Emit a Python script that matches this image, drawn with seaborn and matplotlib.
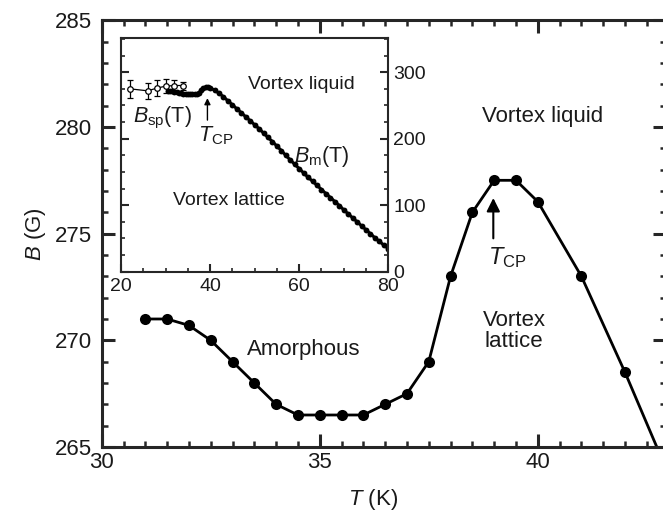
import numpy as np
import pandas as pd
import matplotlib
matplotlib.use('Agg')
import matplotlib.pyplot as plt
from matplotlib.ticker import MultipleLocator
import seaborn as sns

# main panel: B vs T
T_main = [31, 31.5, 32, 32.5, 33, 33.5, 34, 34.5, 35, 35.5, 36, 36.5, 37, 37.5,
          38, 38.5, 39, 39.5, 40, 41, 42, 43]
B_main = [271, 271, 270.7, 270, 269, 268, 267, 266.5, 266.5, 266.5, 266.5, 267,
          267.5, 269, 273, 276, 277.5, 277.5, 276.5, 273, 268.5, 263.7]

# inset: melting line B_m(T)
T_melt = [30.5, 31, 31.5, 32, 32.5, 33, 33.5, 34, 34.5, 35, 35.5, 36, 36.5, 37,
          37.5, 38, 38.5, 39, 39.5, 40, 41, 42, 43, 44, 45, 46, 47, 48, 49, 50,
          51, 52, 53, 54, 55, 56, 57, 58, 59, 60, 61, 62, 63, 64, 65, 66, 67, 68,
          69, 70, 71, 72, 73, 74, 75, 76, 77, 78, 79, 80]
B_melt = [271, 271, 271, 270.7, 270, 269, 268, 267, 266.5, 266.5, 266.5, 266.5,
          267, 267.5, 269, 273, 276, 277.5, 277.5, 276.5, 273, 268.5, 263, 257,
          251, 245, 239, 233, 227, 221, 215, 208.5, 202, 195.5, 189, 182, 175,
          168, 161.5, 155, 148.5, 142, 136, 130, 123.5, 117.5, 111.5, 105.5,
          99.5, 93, 87, 81, 75, 69, 63, 57, 51, 45.5, 40, 34.5]

# inset: B_sp(T) with error bars
T_sp = [22, 26, 28, 30, 32, 34]
B_sp = [275, 272, 276, 279, 280, 280]
B_sp_err = [13.5, 12.5, 12, 10.5, 9, 6]

df_main = pd.DataFrame({'T': T_main, 'B': B_main})
df_melt = pd.DataFrame({'T': T_melt, 'B': B_melt})

sns.set_style('ticks')
plt.rcParams['font.family'] = ['Liberation Sans', 'DejaVu Sans']
plt.rcParams['mathtext.fontset'] = 'custom'
plt.rcParams['mathtext.rm'] = 'Liberation Sans'
plt.rcParams['mathtext.it'] = 'Liberation Sans:italic'
txt = '#1a1a1a'

W, H = 663, 511
fig = plt.figure(figsize=(W / 100, H / 100), dpi=100)
ax = fig.add_axes([101.7 / W, 64 / H, (666 - 101.7) / W, 426.7 / H])

sns.lineplot(data=df_main, x='T', y='B', ax=ax, color='black', lw=2.0,
             marker='o', markersize=8, markeredgewidth=0, estimator=None, sort=False)

ax.set_xlim(30, 42.94)
ax.set_ylim(265, 285)
ax.set_xticks([30, 35, 40])
ax.set_yticks([265, 270, 275, 280, 285])
ax.xaxis.set_minor_locator(MultipleLocator(0.5))
ax.yaxis.set_minor_locator(MultipleLocator(1))
ax.tick_params(which='both', direction='in', top=True, right=True,
               labelsize=16, labelcolor=txt)
ax.tick_params(which='major', length=9.5, width=2.2)
ax.tick_params(which='minor', length=4.5, width=1.8)
ax.tick_params(axis='x', pad=3.5)
ax.tick_params(axis='y', pad=7)
for s in ax.spines.values():
    s.set_linewidth(2.2)

ax.set_xlabel(r'$T$ (K)', fontsize=16, color=txt)
ax.set_ylabel(r'$B$ (G)', fontsize=16, color=txt)
ax.xaxis.set_label_coords(0.48, -0.094)
ax.yaxis.set_label_coords(-0.095, 0.5)

ax.text(40.12, 280.48, 'Vortex liquid', fontsize=16, color=txt, ha='center', va='center')
ax.text(34.64, 269.55, 'Amorphous', fontsize=16, color=txt, ha='center', va='center')
ax.text(39.46, 270.43, 'Vortex\nlattice', fontsize=16, color=txt, ha='center',
        va='center', linespacing=1.0)
ax.text(39.3, 273.88, r'$T_{\rm CP}$', fontsize=17, color=txt, ha='center', va='center')
ax.annotate('', xy=(38.98, 276.67), xytext=(38.98, 274.78),
            arrowprops=dict(arrowstyle='-|>', lw=1.5, color='black',
                            mutation_scale=20, shrinkA=0, shrinkB=0))

# inset
axin = fig.add_axes([121 / W, (H - 271.7) / H, 267.3 / W, 233.4 / H])
axin.set_facecolor('white')
sns.lineplot(data=df_melt, x='T', y='B', ax=axin, color='black', lw=2.2,
             marker='o', markersize=4.2, markeredgewidth=0, estimator=None, sort=False)
axin.errorbar(T_sp, B_sp, yerr=B_sp_err, fmt='o', color='black', ls='-', lw=0.9,
              markersize=4, markerfacecolor='white', markeredgewidth=0.9,
              capsize=2.5, elinewidth=0.9, zorder=5)

axin.set_xlim(20, 80)
axin.set_ylim(0, 351)
axin.set_xticks([20, 40, 60, 80])
axin.set_yticks([0, 100, 200, 300])
axin.xaxis.set_minor_locator(MultipleLocator(5))
axin.yaxis.set_minor_locator(MultipleLocator(25))
axin.tick_params(which='both', direction='in', left=True, right=True, top=False,
                 labelleft=False, labelright=True, labelsize=14, labelcolor=txt)
axin.tick_params(axis='x', pad=4.5)
axin.tick_params(axis='y', pad=3.5)
axin.tick_params(which='major', length=5.5, width=1.5)
axin.tick_params(which='minor', length=3, width=1.2)
for s in axin.spines.values():
    s.set_linewidth(1.5)
axin.set_xlabel('')
axin.set_ylabel('')

axin.text(60.6, 281.6, 'Vortex liquid', fontsize=14, color=txt, ha='center', va='center')
axin.text(44.2, 107.6, 'Vortex lattice', fontsize=14, color=txt, ha='center', va='center')
axin.text(29.2, 231, r'$B_{\rm sp}$(T)', fontsize=15.5, color=txt, ha='center', va='center')
axin.text(65.1, 173, r'$B_{\rm m}$(T)', fontsize=15.5, color=txt, ha='center', va='center')
axin.text(41.3, 204, r'$T_{\rm CP}$', fontsize=15.5, color=txt, ha='center', va='center')
axin.annotate('', xy=(39.4, 261), xytext=(39.4, 228),
              arrowprops=dict(arrowstyle='-|>', lw=1.0, color='black',
                              mutation_scale=9, shrinkA=0, shrinkB=0))

fig.savefig('out.png', dpi=100)
